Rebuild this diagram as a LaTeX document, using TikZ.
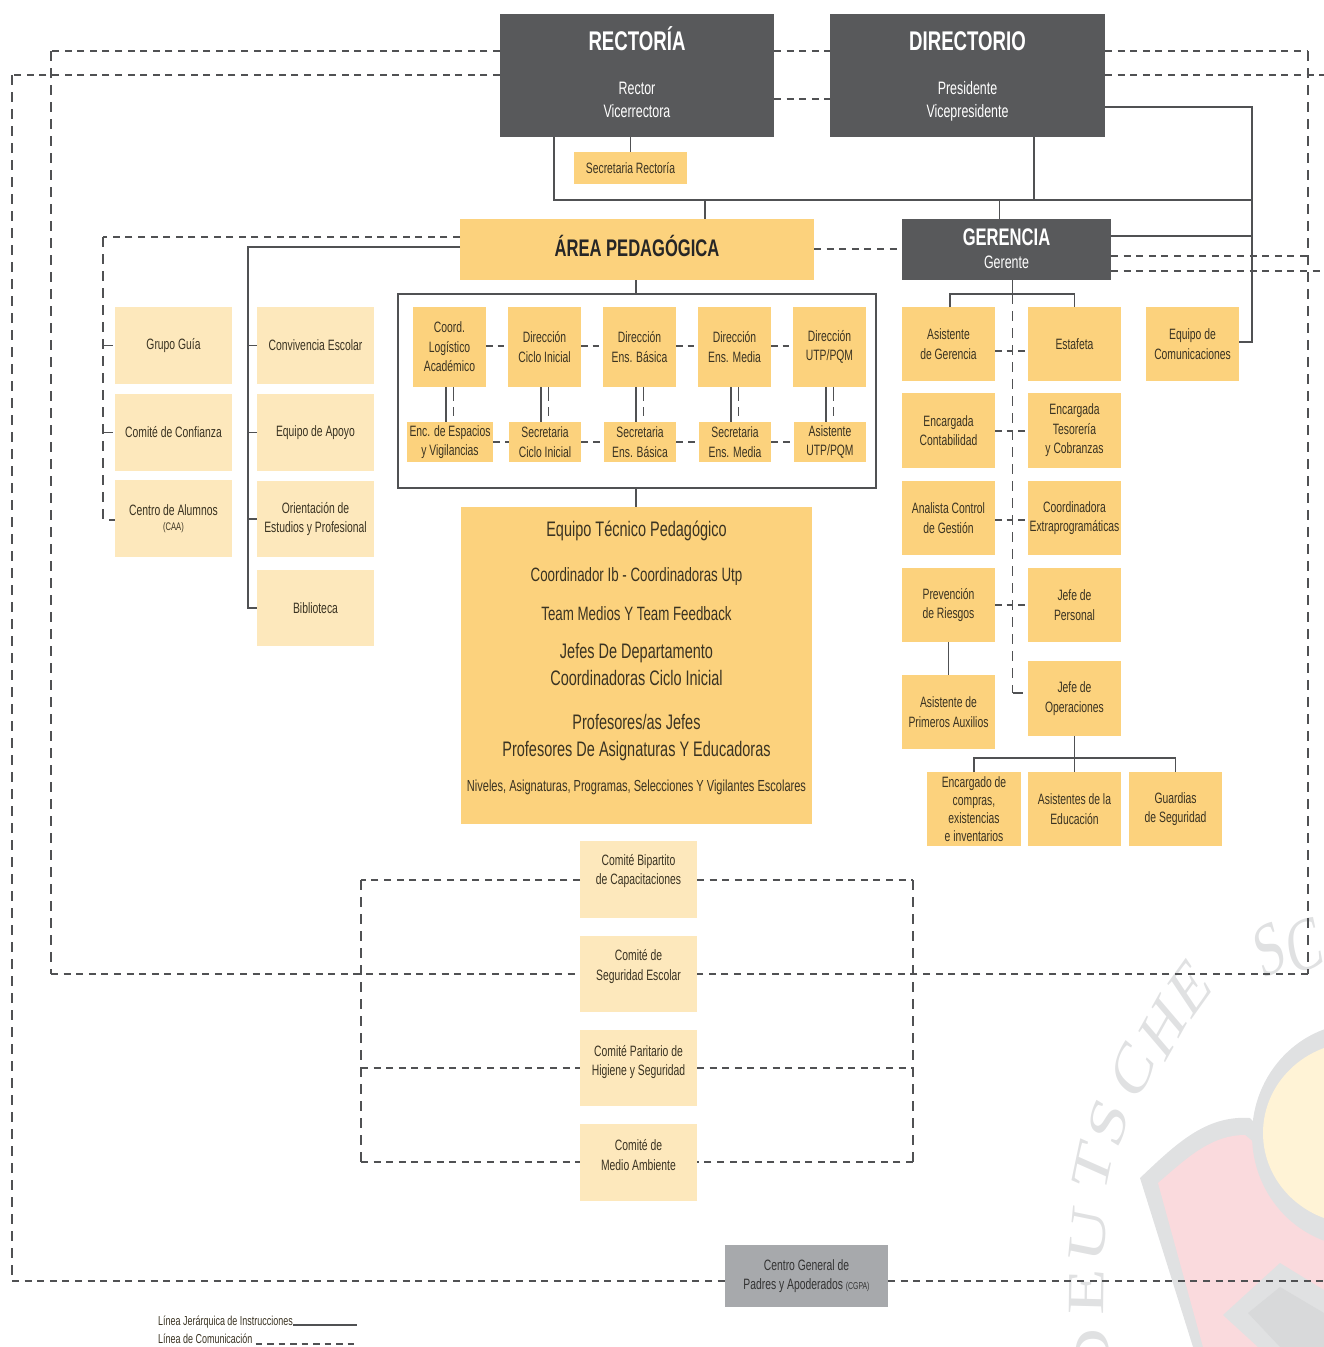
\documentclass[tikz,border=0pt]{standalone}
\usepackage{fontspec}
\setmainfont[FakeStretch=0.69]{Liberation Sans}
\newfontfamily\wmfont{Liberation Serif}
\definecolor{darkbox}{HTML}{58595B}
\definecolor{goldbox}{HTML}{FCD27D}
\definecolor{creambox}{HTML}{FDE8BC}
\definecolor{greybox}{HTML}{A7A9AC}
\definecolor{inkbrown}{HTML}{3A3322}
\definecolor{linegrey}{HTML}{505153}
\definecolor{wmgrey}{HTML}{E0E1E2}
\definecolor{wmpink}{HTML}{FADADD}
\definecolor{wmyellow}{HTML}{FFF3D6}
\definecolor{wmdark}{HTML}{D8D9DA}
\tikzset{
  plainbox/.style={inner sep=0pt,outer sep=0pt,align=center,text=inkbrown,font=\fontsize{15}{19.5}\selectfont},
  darkcard/.style={plainbox,fill=darkbox,text=white},
  goldcard/.style={plainbox,fill=goldbox},
  creamcard/.style={plainbox,fill=creambox},
  greycard/.style={plainbox,fill=greybox,text=black!80},
  framebox/.style={draw=linegrey,line width=1.6pt,inner sep=0pt,outer sep=0pt},
  solidline/.style={draw=linegrey,line width=1.5pt},
  hdash/.style={draw=linegrey,line width=2pt,dash pattern=on 7pt off 5.6pt},
  vdash/.style={draw=linegrey,line width=1.1pt,dash pattern=on 10pt off 7pt},
  shortdash/.style={draw=linegrey,line width=1.5pt,dash pattern=on 6.5pt off 5pt},
  wmletter/.style={text=wmgrey,font=\wmfont\fontsize{76}{76}\selectfont,inner sep=0pt,xscale=0.69},
  legendtext/.style={anchor=west,inner sep=0pt,text=inkbrown,font=\fontsize{13}{14}\selectfont},
  headcard/.style={darkcard,font=\fontsize{18}{23}\selectfont},
  equipocard/.style={goldcard,font=\fontsize{19.3}{27}\selectfont}
}
\newcommand\bx[7]{%
  \pgfmathsetmacro\bxw{#5-#3}\pgfmathsetmacro\bxh{#6-#4}%
  \pgfmathsetmacro\bxx{(#3+#5)/2}\pgfmathsetmacro\bxy{(#4+#6)/2}%
  \node[#1,minimum width=\bxw pt,minimum height=\bxh pt] (#2) at (\bxx,\bxy) {#7};}
\newcommand\fsz[1]{\fontsize{#1}{27}\selectfont}
\begin{document}
\begin{tikzpicture}[x=1pt,y=-1pt]
\useasboundingbox (0,0) rectangle (1324,1347);
% watermark
\begin{scope}
\clip (0,0) rectangle (1324,1347);
\fill[wmgrey] (1140,1178) .. controls (1175,1145) and (1205,1115) .. (1250,1118) -- (1324,1200) -- (1324,1347) -- (1193,1347) -- cycle;
\fill[wmpink] (1158,1183) .. controls (1185,1160) and (1210,1135) .. (1245,1135) -- (1324,1200) -- (1324,1347) -- (1203,1347) -- cycle;
\fill[wmgrey] (1360,1135) ellipse [x radius=108,y radius=112];
\fill[wmyellow] (1358,1133) ellipse [x radius=95,y radius=91];
\fill[wmgrey] (1223,1315) -- (1280,1263) -- (1324,1290) -- (1324,1347) -- (1258,1347) -- cycle;
\fill[wmdark] (1248,1313) -- (1280,1287) -- (1324,1313) -- (1324,1347) -- (1280,1347) -- cycle;
\node[wmletter,rotate=92] (wmD) at (1093,1356) {D};
\node[wmletter,rotate=89] (wmE) at (1087,1292) {E};
\node[wmletter,rotate=82] (wmU) at (1088,1235) {U};
\node[wmletter,rotate=73] (wmT) at (1093,1167) {T};
\node[wmletter,rotate=67] (wmS) at (1108,1122) {S};
\node[wmletter,rotate=59] (wmC) at (1133,1070) {C};
\node[wmletter,rotate=51] (wmH) at (1163,1028) {H};
\node[wmletter,rotate=44] (wmEb) at (1190,987) {E};
\node[wmletter,rotate=22] (wmSb) at (1270,950) {S};
\node[wmletter,rotate=16] (wmCb) at (1305,946) {C};
\end{scope}
% top
\bx{headcard,text depth=6pt}{rect}{500}{14}{774}{137}{{\fontsize{27}{30}\selectfont\bfseries RECTORÍA}\\[21pt]Rector\\Vicerrectora}
\bx{headcard,text depth=2pt}{dir}{830}{14}{1105}{137}{{\fontsize{27}{30}\selectfont\bfseries DIRECTORIO}\\[21pt]Presidente\\Vicepresidente}
\bx{goldcard}{secr}{574}{152}{687}{184}{Secretaria Rectoría}
\bx{goldcard,text depth=7pt}{area}{460}{219}{814}{280}{\fontsize{24}{28}\selectfont\bfseries\color{black!85}ÁREA PEDAGÓGICA}
\bx{headcard,text depth=2pt}{ger}{902}{219}{1111}{280}{{\fontsize{24}{27}\selectfont\bfseries GERENCIA}\\[0pt]Gerente}
% left columns
\bx{creamcard}{guia}{115}{307}{232}{384}{Grupo Guía}
\bx{creamcard}{conf}{115}{394}{232}{471}{Comité de Confianza}
\bx{creamcard}{caa}{115}{480}{232}{557}{Centro de Alumnos\\[-4pt]{\fontsize{11}{12}\selectfont (CAA)}}
\bx{creamcard}{conv}{257}{307}{374}{384}{Convivencia Escolar}
\bx{creamcard}{apoyo}{257}{394}{374}{471}{Equipo de Apoyo}
\bx{creamcard}{orie}{257}{481}{374}{557}{Orientación de\\Estudios y Profesional}
\bx{creamcard}{bibl}{257}{570}{374}{646}{Biblioteca}
% frame
\bx{framebox}{frame}{398}{294}{876}{488}{}
\bx{goldcard}{dA}{413}{307}{486}{387}{Coord.\\Logístico\\Académico}
\bx{goldcard}{dB}{508}{307}{581}{387}{Dirección\\Ciclo Inicial}
\bx{goldcard}{dC}{603}{307}{676}{387}{Dirección\\Ens. Básica}
\bx{goldcard}{dD}{698}{307}{771}{387}{Dirección\\Ens. Media}
\bx{goldcard}{dE}{793}{307}{866}{387}{Dirección\\UTP/PQM}
\bx{goldcard}{sA}{407}{422}{493}{462}{Enc. de Espacios\\y Vigilancias}
\bx{goldcard}{sB}{509}{422}{581}{462}{Secretaria\\Ciclo Inicial}
\bx{goldcard}{sC}{604}{422}{676}{462}{Secretaria\\Ens. Básica}
\bx{goldcard}{sD}{699}{422}{771}{462}{Secretaria\\Ens. Media}
\bx{goldcard}{sE}{794}{422}{866}{462}{Asistente\\UTP/PQM}
% equipo
\bx{equipocard,text depth=18pt}{equipo}{461}{507}{812}{824}{\fsz{21}Equipo Técnico Pedagógico\\[18pt]\fsz{19.3}Coordinador Ib - Coordinadoras Utp\\[12pt]\fsz{19.3}Team Medios Y Team Feedback\\[11pt]\fsz{21}Jefes De Departamento\\\fsz{21}Coordinadoras Ciclo Inicial\\[17pt]\fsz{21}Profesores/as Jefes\\\fsz{21}Profesores De Asignaturas Y Educadoras\\[8pt]\fsz{16}Niveles, Asignaturas, Programas, Selecciones Y Vigilantes Escolares}
% gerencia staff
\bx{goldcard}{g1}{902}{307}{995}{381}{Asistente\\de Gerencia}
\bx{goldcard}{h1}{1028}{307}{1121}{381}{Estafeta}
\bx{goldcard}{comu}{1146}{307}{1239}{381}{Equipo de\\Comunicaciones}
\bx{goldcard}{g2}{902}{393}{995}{468}{Encargada\\Contabilidad}
\bx{goldcard}{h2}{1028}{393}{1121}{468}{Encargada\\Tesorería\\y Cobranzas}
\bx{goldcard}{g3}{902}{481}{995}{555}{Analista Control\\de Gestión}
\bx{goldcard}{h3}{1028}{481}{1121}{555}{Coordinadora\\Extraprogramáticas}
\bx{goldcard}{g4}{902}{568}{995}{642}{Prevención\\de Riesgos}
\bx{goldcard}{h4}{1028}{568}{1121}{642}{Jefe de\\Personal}
\bx{goldcard}{g5}{902}{675}{995}{749}{Asistente de\\Primeros Auxilios}
\bx{goldcard}{h5}{1028}{661}{1121}{736}{Jefe de\\Operaciones}
\bx{goldcard,font=\fontsize{15}{17.8}\selectfont}{o1}{927}{772}{1021}{846}{Encargado de\\compras,\\existencias\\e inventarios}
\bx{goldcard}{o2}{1028}{772}{1121}{846}{Asistentes de la\\Educación}
\bx{goldcard}{o3}{1129}{772}{1222}{846}{Guardias\\de Seguridad}
% comites
\bx{creamcard,text depth=20pt}{c1}{580}{841}{697}{918}{Comité Bipartito\\de Capacitaciones}
\bx{creamcard,text depth=18pt}{c2}{580}{936}{697}{1012}{Comité de\\Seguridad Escolar}
\bx{creamcard,text depth=15pt}{c3}{580}{1030}{697}{1106}{Comité Paritario de\\Higiene y Seguridad}
\bx{creamcard,text depth=15pt}{c4}{580}{1124}{697}{1201}{Comité de\\Medio Ambiente}
\bx{greycard}{cgpa}{725}{1245}{888}{1307}{Centro General de\\Padres y Apoderados {\fontsize{10}{12}\selectfont (CGPA)}}
% legend
\node[legendtext] (legA) at (158,1322) {Línea Jerárquica de Instrucciones};
\node[legendtext] (legB) at (158,1339) {Línea de Comunicación};
\coordinate (legAe) at (357,1325);
\coordinate (legBe) at (357,1344);
\draw[solidline] (legA.east |- legAe) -- (legAe);
\draw[shortdash] (legB.east |- legBe) ++(3,0) -- (legBe);
% free corners
\coordinate (tlA) at (51,51);
\coordinate (blA) at (51,974);
\coordinate (trA) at (1308,51);
\coordinate (brA) at (1308,974);
\coordinate (tlB) at (12,75);
\coordinate (blB) at (12,1281);
\coordinate (rB1) at (1324,75);
\coordinate (rB2) at (1324,271);
\coordinate (rB3) at (1324,1281);
\coordinate (rA2) at (1308,256);
\coordinate (busL) at (554,200);
\coordinate (busR) at (1252,200);
\coordinate (aLd) at (103,237);
\coordinate (aLs) at (248,247);
\coordinate (gHub) at (1012.5,294);
\coordinate (gHubEnd) at (1012.5,693);
\coordinate (opBus) at (1075,758);
\coordinate (comL) at (361,880);
\coordinate (comLb) at (361,1162);
\coordinate (comR) at (913,880);
\coordinate (comRb) at (913,1162);
% outer dashed loops
\draw[hdash] (rect.west |- tlA) -- (tlA);
\draw[vdash] (tlA) -- (blA);
\draw[hdash] (blA) -- (c2.west |- blA);
\draw[hdash] (dir.east |- trA) -- (trA);
\draw[vdash] (trA) -- (brA);
\draw[hdash] (brA) -- (c2.east |- brA);
\draw[hdash] (rect.west |- tlB) -- (tlB);
\draw[vdash] (tlB) -- (blB);
\draw[hdash] (blB) -- (cgpa.west |- blB);
\draw[hdash] (cgpa.east |- rB3) -- (rB3);
\draw[hdash] (dir.east |- rB1) -- (rB1);
\draw[hdash] (rect.east |- tlA) -- (dir.west |- tlA);
\draw[hdash] (rect.east |- 0,99) -- (dir.west |- 0,99);
\draw[hdash] (ger.east |- rA2) -- (rA2);
\draw[hdash] (ger.east |- rB2) -- (rB2);
\draw[hdash] (area.east |- 0,249) -- (ger.west |- 0,249);
% hierarchy top
\draw[solidline] (rect.south -| busL) -- (busL) -- (busR);
\draw[solidline,line width=1.2pt] (rect.south -| secr.north) -- (secr.north);
\draw[solidline,line width=1.2pt] (dir.south -| 1034,0) -- (1034,200);
\draw[solidline,line width=1.2pt] (dir.east |- 0,107) -| (busR);
\draw[solidline,line width=1.2pt] (busR) |- (comu.east |- 0,342);
\draw[solidline,line width=1.2pt] (ger.east |- 0,236) -- (busR |- 0,236);
\draw[solidline,line width=1.2pt] (705,200) -- (area.north -| 705,0);
\draw[solidline,line width=1.2pt] (999.5,200) -- (ger.north -| 999.5,0);
% area left
\draw[hdash] (area.west |- aLd) -- (aLd);
\draw[vdash] (aLd) |- (caa.west |- 0,520);
\draw[vdash] (aLd |- guia.west) -- (guia.west);
\draw[vdash] (aLd |- conf.west) -- (conf.west);
\draw[solidline] (area.west |- aLs) -- (aLs) |- (bibl.west);
\draw[solidline,line width=1.2pt] (aLs |- conv.west) -- (conv.west);
\draw[solidline,line width=1.2pt] (aLs |- apoyo.west) -- (apoyo.west);
\draw[solidline,line width=1.2pt] (aLs |- orie.west) -- (orie.west);
\draw[solidline,line width=1.2pt] (area.south -| 636,0) -- (frame.north -| 636,0);
\draw[solidline,line width=1.2pt] (frame.south -| 636,0) -- (equipo.north -| 636,0);
% frame internals
\foreach \a/\b in {dA/dB,dB/dC,dC/dD,dD/dE}{\draw[shortdash] (\a.east |- 0,346) -- (\b.west |- 0,346);}
\foreach \a/\b in {sA/sB,sB/sC,sC/sD,sD/sE}{\draw[hdash,dash pattern=on 7pt off 5pt] (\a.east |- 0,442) -- (\b.west |- 0,442);}
\foreach \a/\b/\x in {dA/sA/446,dB/sB/541,dC/sC/636,dD/sD/731,dE/sE/826}{
  \draw[solidline,line width=1.8pt] (\a.south -| \x,0) -- (\b.north -| \x,0);
  \draw[vdash,line width=1.3pt,dash pattern=on 14pt off 6pt on 9pt off 6pt] (\a.south -| \x+7.5,0) -- (\b.north -| \x+7.5,0);
}
% gerencia
\draw[solidline,line width=1.2pt] (ger.south -| gHub) -- (gHub);
\draw[solidline,line width=1.2pt] (g1.north -| 950,0) |- (h1.north |- gHub) -- (h1.north);
\draw[vdash] (gHub) -- (gHubEnd);
\draw[vdash] (gHubEnd) -- (h5.west |- gHubEnd);
\draw[shortdash,line width=1.3pt] (g1.east |- 0,351) -- (h1.west |- 0,351);
\draw[shortdash,line width=1.3pt] (g2.east |- 0,431) -- (h2.west |- 0,431);
\draw[shortdash,line width=1.3pt] (g3.east |- 0,520) -- (h3.west |- 0,520);
\draw[shortdash,line width=1.3pt] (g4.east |- 0,605) -- (h4.west |- 0,605);
\draw[solidline] (g4.south) -- (g5.north);
\draw[solidline] (h5.south) -- (o2.north);
\draw[solidline] (o1.north -| 974,0) |- (opBus) -| (o3.north);
% comites
\draw[hdash] (c1.west |- comL) -- (comL);
\draw[vdash] (comL) -- (comLb);
\draw[hdash] (comLb) -- (c4.west |- comLb);
\draw[hdash] (c1.east |- comR) -- (comR);
\draw[vdash] (comR) -- (comRb);
\draw[hdash] (comRb) -- (c4.east |- comRb);
\draw[hdash] (comL |- 0,1068) -- (c3.west |- 0,1068);
\draw[hdash] (c3.east |- 0,1068) -- (comR |- 0,1068);
\end{tikzpicture}
\end{document}
